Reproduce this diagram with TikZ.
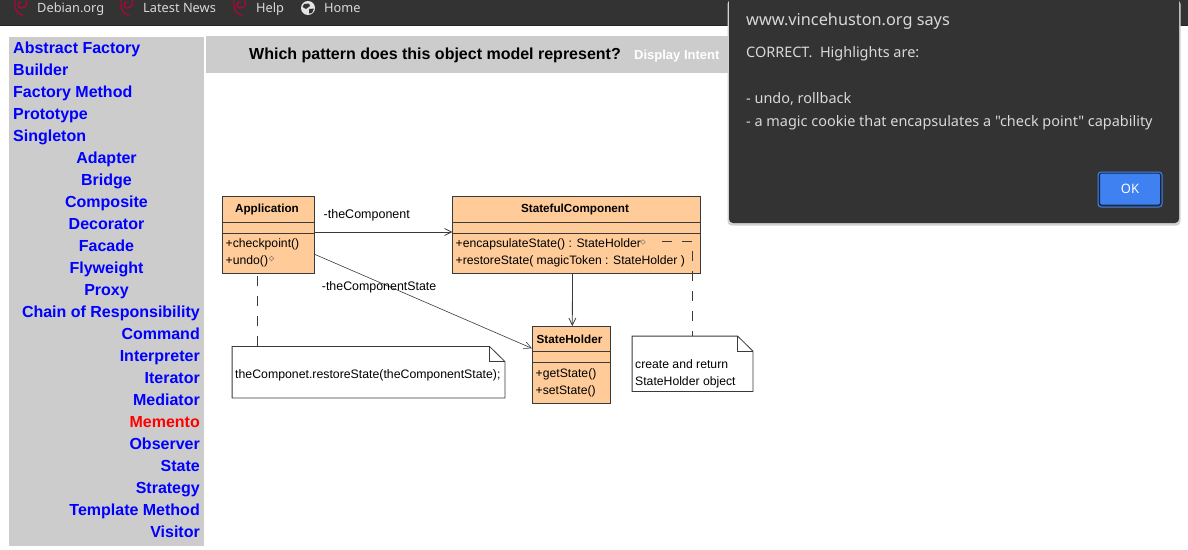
\documentclass[tikz,border=0pt]{standalone}
\usepackage{fontspec}
\setmainfont{Liberation Sans}
\newfontfamily\uifont{Noto Sans}
\usetikzlibrary{shapes.geometric,arrows.meta}
\definecolor{barcolor}{HTML}{333333}
\definecolor{sidecolor}{HTML}{CCCCCC}
\definecolor{classfill}{HTML}{FFCC99}
\definecolor{classline}{HTML}{3A3A3A}
\definecolor{swirlred}{HTML}{BC0038}
\definecolor{okblue}{HTML}{3F81F0}
\tikzset{
  menu text/.style={anchor=base west,inner sep=0pt,text=white!85!black,font=\uifont\fontsize{12.8}{15}\selectfont},
  dialog text/.style={anchor=base west,inner sep=0pt,text=white!85!black,font=\uifont\fontsize{14.45}{16}\selectfont},
  side text/.style={inner sep=0pt,text=blue,font=\bfseries\fontsize{16}{18}\selectfont},
  class box/.style={draw=classline,fill=classfill,line width=0.8pt,inner sep=0pt,minimum height=76.6pt},
  class title/.style={inner sep=0pt,text=black,font=\bfseries\fontsize{11.7}{13}\selectfont},
  class member/.style={anchor=base west,inner sep=0pt,font=\fontsize{12.2}{14}\selectfont},
  assoc label/.style={anchor=base west,inner sep=0pt,font=\fontsize{12.5}{14}\selectfont},
  note box/.style={inner sep=0pt,minimum width=#1},
  note line/.style={draw=classline,line width=0.8pt},
  dashed link/.style={draw=classline,line width=0.8pt,dash pattern=on 10pt off 10pt},
  assoc/.style={draw=classline,line width=0.7pt,-{Straight Barb[length=7pt,width=7pt]}},
  small mark/.style={diamond,draw=black!60,line width=0.4pt,inner sep=0pt,minimum size=5pt}
}
\newcommand{\classrules}[1]{%
  \foreach \rulepos in {25.6,36.6}
    \draw[classline,line width=0.8pt] ([yshift=-\rulepos pt]#1.north west) -- ([yshift=-\rulepos pt]#1.north east);}
\newcommand{\swirl}[2]{%
  \draw[swirlred,line width=1.1pt,line cap=round] (#1+2,#2+10) .. controls (#1-4,#2+10) and (#1-7,#2+3) .. (#1-6,#2-5);
  \draw[swirlred,line width=1.1pt,line cap=round] (#1+5,#2-5) .. controls (#1+7,#2-1) and (#1+5,#2+3) .. (#1,#2+3) .. controls (#1-4,#2+3) and (#1-4,#2-3) .. (#1,#2-3);}
\begin{document}
\begin{tikzpicture}[x=1pt,y=-1pt]
  \useasboundingbox (0,0) rectangle (1188,549);
  \fill[white] (0,0) rectangle (1188,549);

  % browser bar
  \fill[barcolor] (0,0) rectangle (1188,25);
  \fill[black!85] (0,25) rectangle (1188,26);
  \swirl{21}{5}
  \swirl{127}{5}
  \swirl{240}{5}
  \node[menu text] (menu1) at (37,12) {Debian.org};
  \node[menu text] (menu2) at (143,12) {Latest News};
  \node[menu text] (menu3) at (256,12) {Help};
  \node[menu text] (menu4) at (324,12) {Home};
  \fill[white!90!black] (308,8) circle (7);
  \fill[barcolor] (304,4) -- (309,3.5) -- (310,6) -- (306,9) -- (302.5,7) -- cycle;
  \fill[barcolor] (309,9) -- (314,8.5) -- (312,13) -- (309,13.5) -- cycle;

  % pattern list
  \fill[sidecolor] (9,37) rectangle (204,546);
  \foreach \pat [count=\i] in {Abstract Factory,Builder,Factory Method,Prototype,Singleton}
    \node[side text,anchor=base west] (pat\i) at (13,31.6+\i*22) {\pat};
  \foreach \pat [count=\i from 6] in {Adapter,Bridge,Composite,Decorator,Facade,Flyweight,Proxy}
    \node[side text,anchor=base] (pat\i) at (106.5,31.6+\i*22) {\pat};
  \foreach \pat [count=\i from 13] in {Chain of Responsibility,Command,Interpreter,Iterator,Mediator}
    \node[side text,anchor=base east] (pat\i) at (200,31.6+\i*22) {\pat};
  \node[side text,anchor=base east,text=red] (pat18) at (200,427.6) {Memento};
  \foreach \pat [count=\i from 19] in {Observer,State,Strategy,Template Method,Visitor}
    \node[side text,anchor=base east] (pat\i) at (200,31.6+\i*22) {\pat};

  % question bar
  \fill[sidecolor] (206,36) rectangle (735,73);
  \node[anchor=base west,inner sep=0pt,font=\bfseries\fontsize{16}{18}\selectfont] (question) at (249,59.5) {Which pattern does this object model represent?};
  \node[anchor=base west,inner sep=0pt,text=white,font=\bfseries\fontsize{13}{15}\selectfont] (intent) at (634,59) {Display Intent};

  % classes
  \node[class box,minimum width=92.4pt] (app) at (268.5,235) {};
  \node[class box,minimum width=248pt] (state) at (576.7,235) {};
  \node[class box,minimum width=78.4pt,minimum height=77pt] (holder) at (571.5,364.8) {};
  \classrules{app}
  \classrules{state}
  \classrules{holder}
  \node[class title] (apptitle) at (267,209) {Application};
  \node[class title] (statetitle) at (575,209) {StatefulComponent};
  \node[class title] (holdertitle) at (569.5,339) {StateHolder};
  \node[class member] (appm1) at (225.5,247) {+checkpoint()};
  \node[class member] (appm2) at (225.5,264) {+undo()};
  \node[small mark] (appmark) at (271.5,258.5) {};
  \node[class member] (statem1) at (455.5,247) {+encapsulateState() : StateHolder};
  \node[small mark] (statemark) at (643,242) {};
  \node[class member] (statem2) at (455.5,264) {+restoreState( magicToken : StateHolder )};
  \node[class member] (holderm1) at (535.5,377) {+getState()};
  \node[class member] (holderm2) at (535.5,394) {+setState()};

  % notes
  \node[note box=272.4pt,minimum height=51pt] (note1) at (368.5,372.2) {};
  \node[note box=120.4pt,minimum height=55pt] (note2) at (692.5,363.8) {};
  \foreach \notename in {note1,note2} {
    \draw[note line,fill=white] (\notename.north west) -- ([xshift=-15.3pt]\notename.north east) -- ([yshift=-15pt]\notename.north east) -- (\notename.south east) -- (\notename.south west) -- cycle;
    \draw[note line] ([xshift=-15.3pt]\notename.north east) -- ([xshift=-15.3pt,yshift=-15pt]\notename.north east) -- ([yshift=-15pt]\notename.north east);
  }
  \node[class member,font=\fontsize{12.3}{14}\selectfont] (note1text) at (235,378) {theComponet.restoreState(theComponentState);};
  \node[class member] (note2a) at (635,368) {create and return};
  \node[class member] (note2b) at (635,385) {StateHolder object};

  % connectors
  \draw[assoc] ([yshift=3pt]app.east) -- ([yshift=3pt]state.west);
  \node[assoc label] (label1) at (323.5,218) {-theComponent};
  \draw[assoc,line width=0.6pt] ([yshift=-19.5pt]app.east) -- ([yshift=16.5pt]holder.west);
  \node[assoc label,font=\fontsize{12.4}{14}\selectfont] (label2) at (321.7,290) {-theComponentState};
  \draw[assoc,line width=0.8pt] ([xshift=-4.2pt]state.south) -- ([xshift=0.8pt]holder.north);
  \coordinate (dash1) at (257.3,276);
  \coordinate (dash2) at (662,241.5);
  \draw[dashed link] (dash1) -- (dash1 |- note1.north);
  \draw[dashed link] (dash2) -- (dash2 -| note2.north) -- (note2.north);

  % dialog
  \fill[black!18,rounded corners=4pt] (727.5,0) rectangle (1180.5,225.5);
  \fill[barcolor,rounded corners=4pt] (729,-6) rectangle (1179,223);
  \node[dialog text,font=\uifont\fontsize{16.3}{18}\selectfont] (dlgtitle) at (746,25) {www.vincehuston.org says};
  \node[dialog text] (dlg1) at (746,57) {CORRECT.\ \ Highlights are:};
  \node[dialog text] (dlg2) at (746,103) {- undo, rollback};
  \node[dialog text] (dlg3) at (746,126) {- a magic cookie that encapsulates a "check point" capability};
  \node[draw=black!70!okblue,line width=1pt,fill=okblue,rounded corners=2pt,minimum width=61pt,minimum height=32pt,inner sep=0pt] (okbtn) at (1130,189) {};
  \draw[okblue,line width=1pt,rounded corners=3pt] (1098,172) rectangle (1162,207);
  \node[inner sep=0pt,text=white,font=\uifont\fontsize{13}{15}\selectfont] (oktext) at (1130,189) {OK};
\end{tikzpicture}
\end{document}
